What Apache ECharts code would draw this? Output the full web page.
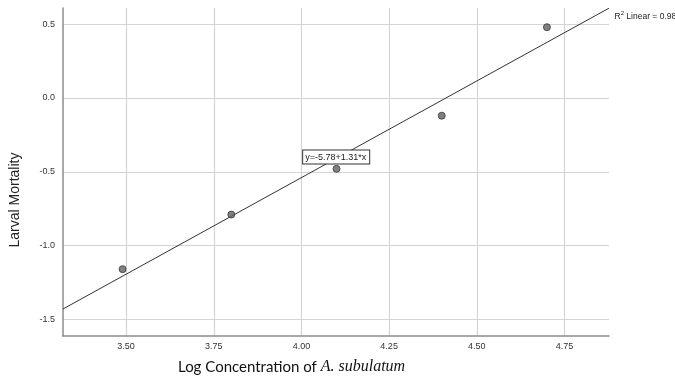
<!DOCTYPE html>
<html>
<head>
<meta charset="utf-8">
<script src="https://cdn.jsdelivr.net/npm/echarts@6/dist/echarts.min.js"></script>
<style>html,body{margin:0;padding:0;background:#fff}#c{width:675px;height:380px}</style>
</head>
<body>
<div id="c"></div>
<script>
// Observed data (log concentration vs larval mortality)
const logConc = [3.49, 3.80, 4.10, 4.40, 4.70];
const mortality = [-1.16, -0.79, -0.48, -0.12, 0.48];
// Fit line endpoints (y = -5.78 + 1.31*x)
const fitX = [3.32, 4.877];
const fitY = [-1.43, 0.609];
const fitEquation = 'y=-5.78+1.31*x';
const fitR2Label = '{r|R}{s|2}{r| Linear = 0.982}';
const eqLabelPos = [4.099, -0.40];
// Axis ticks
const xTicks = [3.50, 3.75, 4.00, 4.25, 4.50, 4.75];
const yTicks = [-1.5, -1.0, -0.5, 0.0, 0.5];
const xRange = [3.32, 4.877];
const yRange = [-1.613, 0.61];

const chart = echarts.init(document.getElementById('c'));
const gridColor = '#d4d4d4';
const labelFont = { fontFamily: 'Liberation Sans', fontSize: 9, color: '#333' };

const option = {
  animation: false,
  backgroundColor: '#fff',
  grid: { left: 63, top: 8, right: 66, bottom: 44, containLabel: false },
  xAxis: {
    type: 'value', min: xRange[0], max: xRange[1],
    axisLine: { show: true, onZero: false, lineStyle: { color: '#8c8c8c', width: 1.5 } },
    axisTick: { show: false, customValues: xTicks },
    splitLine: { show: true, lineStyle: { color: gridColor, width: 1.2 } },
    axisLabel: Object.assign({ customValues: xTicks, margin: 6, formatter: v => v.toFixed(2) }, labelFont)
  },
  yAxis: {
    type: 'value', min: yRange[0], max: yRange[1],
    axisLine: { show: true, onZero: false, lineStyle: { color: '#8c8c8c', width: 1.5 } },
    axisTick: { show: false, customValues: yTicks },
    splitLine: { show: true, lineStyle: { color: gridColor, width: 1.2 } },
    axisLabel: Object.assign({ customValues: yTicks, margin: 8, formatter: v => v.toFixed(1) }, labelFont)
  },
  series: [
    {
      type: 'line', silent: true, symbol: 'none', z: 3,
      data: fitX.map((x, i) => [x, fitY[i]]),
      lineStyle: { color: '#333', width: 1 },
      markPoint: {
        symbol: 'rect', symbolSize: 1, itemStyle: { color: 'rgba(0,0,0,0)' },
        data: [
          {
            coord: eqLabelPos,
            label: {
              show: true, position: 'inside', formatter: fitEquation,
              fontFamily: 'Liberation Sans', fontSize: 9, color: '#222',
              backgroundColor: '#fff', borderColor: '#333', borderWidth: 1,
              padding: [2, 3, 2, 2]
            }
          },
          {
            coord: [fitX[1], fitY[1]],
            label: {
              show: true, position: 'right', distance: 5, offset: [0, 8],
              formatter: fitR2Label, overflow: 'none',
              rich: {
                r: { fontFamily: 'Liberation Sans', fontSize: 8.5, color: '#222', verticalAlign: 'bottom', lineHeight: 11 },
                s: { fontFamily: 'Liberation Sans', fontSize: 6, color: '#222', verticalAlign: 'top', lineHeight: 11 }
              }
            }
          }
        ]
      }
    },
    {
      type: 'scatter', z: 4,
      data: logConc.map((x, i) => [x, mortality[i]]),
      symbolSize: 7,
      itemStyle: { color: '#606060', borderColor: '#3a3a3a', borderWidth: 1 }
    }
  ],
  graphic: [
    {
      type: 'text', x: 15, y: 200, rotation: Math.PI / 2,
      style: { text: 'Larval Mortality', font: '14px "Liberation Sans"', fill: '#222', align: 'center', verticalAlign: 'middle' }
    },
    {
      type: 'text', x: 178, y: 367,
      style: {
        text: '{a|Log Concentration of }{b|A. subulatum}',
        verticalAlign: 'middle',
        rich: {
          a: { fontFamily: 'Lato', fontSize: 15, fill: '#111', color: '#111' },
          b: { fontFamily: 'Liberation Serif', fontStyle: 'italic', fontSize: 16, fill: '#111', color: '#111' }
        }
      }
    }
  ]
};
chart.setOption(option);
</script>
</body>
</html>
